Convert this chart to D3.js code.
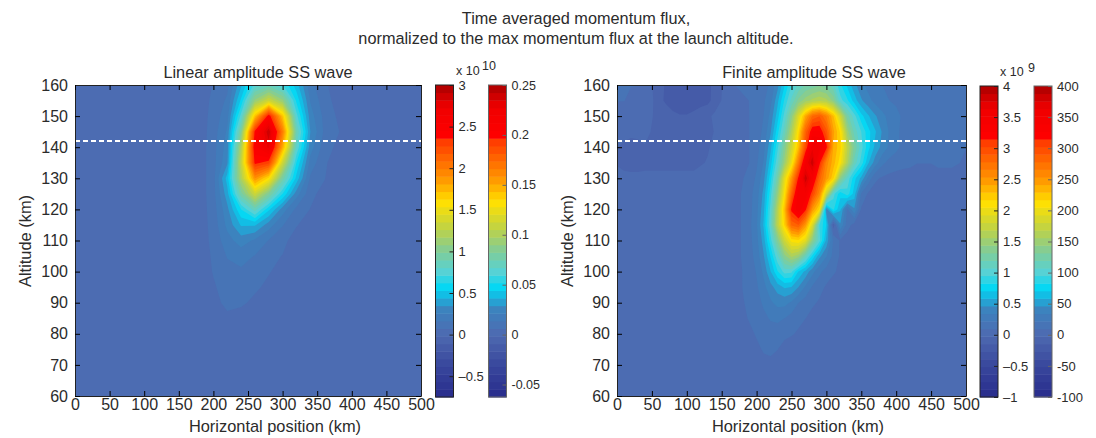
<!DOCTYPE html>
<html>
<head>
<meta charset="utf-8">
<script src="https://cdn.jsdelivr.net/npm/d3@7"></script>
<style>
body { margin: 0; background: #fff; }
text { font-family: "Liberation Sans", Arial, sans-serif; fill: #2b2b2b; }
.domain { stroke: #222; }
</style>
</head>
<body>
<div id="chart_container"></div>
<script>
// figure titles
const mainTitle = ["Time averaged momentum flux,", "normalized to the max momentum flux at the launch altitude."];
const panelTitles = ["Linear amplitude SS wave", "Finite amplitude SS wave"];
const launchAltitude = 142;

// axis ticks
const xTicks = [0, 50, 100, 150, 200, 250, 300, 350, 400, 450, 500];
const yTicks = [60, 70, 80, 90, 100, 110, 120, 130, 140, 150, 160];

// colorbar ranges and ticks
const linearBarDomain = [-0.75, 3];
const linearBarTicks = [-0.5, 0, 0.5, 1, 1.5, 2, 2.5, 3];
const linearNormDomain = [-0.0625, 0.25];
const linearNormTicks = [-0.05, 0, 0.05, 0.1, 0.15, 0.2, 0.25];
const finiteBarDomain = [-1, 4];
const finiteBarTicks = [-1, -0.5, 0, 0.5, 1, 1.5, 2, 2.5, 3, 3.5, 4];
const finiteNormDomain = [-100, 400];
const finiteNormTicks = [-100, -50, 0, 50, 100, 150, 200, 250, 300, 350, 400];

// altitudes of the grid rows, top to bottom
const altitudes = [160, 155, 150, 145, 140, 135, 130, 125, 120, 115, 110, 105, 100, 95, 90, 85, 80, 75, 70, 65, 60];

// linear case, x 10^10, columns every 20 km
const linearStep = 20;
const linearFlux = [
  [0,0,0,0,0,0,0,0,0,0,.08,.14,.42,.75,.85,.72,.48,.2,.09,.03,0,0,0,0,0,0],
  [0,0,0,0,0,0,0,0,0,.01,.1,.18,.55,1.1,1.35,1.1,.6,.25,.11,.04,0,0,0,0,0,0],
  [0,0,0,0,0,0,0,0,0,.02,.11,.22,.75,1.7,2.45,1.7,.75,.3,.14,.06,0,0,0,0,0,0],
  [0,0,0,0,0,0,0,0,0,.02,.12,.27,1.0,2.4,2.9,2.0,.9,.35,.15,.08,.01,0,0,0,0,0],
  [0,0,0,0,0,0,0,0,0,.02,.13,.3,1.2,2.5,2.75,1.8,.8,.3,.12,.05,0,0,0,0,0,0],
  [0,0,0,0,0,0,0,0,0,.02,.13,.33,1.3,2.4,2.3,1.35,.62,.22,.09,.02,0,0,0,0,0,0],
  [0,0,0,0,0,0,0,0,0,.02,.13,.48,1.2,1.9,1.6,.95,.5,.15,.08,0,0,0,0,0,0,0],
  [0,0,0,0,0,0,0,0,0,.02,.13,.4,.95,1.35,1.0,.62,.3,.1,.04,0,0,0,0,0,0,0],
  [0,0,0,0,0,0,0,0,0,.02,.12,.32,.62,.85,.55,.3,.14,.07,.01,0,0,0,0,0,0,0],
  [0,0,0,0,0,0,0,0,0,.02,.11,.28,.45,.45,.3,.17,.08,.02,0,0,0,0,0,0,0,0],
  [0,0,0,0,0,0,0,0,0,.02,.1,.22,.3,.24,.16,.1,.03,0,0,0,0,0,0,0,0,0],
  [0,0,0,0,0,0,0,0,0,.01,.09,.17,.2,.16,.1,.07,.01,0,0,0,0,0,0,0,0,0],
  [0,0,0,0,0,0,0,0,0,.01,.08,.14,.15,.11,.08,.04,0,0,0,0,0,0,0,0,0,0],
  [0,0,0,0,0,0,0,0,0,0,.06,.12,.12,.09,.05,.01,0,0,0,0,0,0,0,0,0,0],
  [0,0,0,0,0,0,0,0,0,0,.04,.1,.09,.05,.01,0,0,0,0,0,0,0,0,0,0,0],
  [0,0,0,0,0,0,0,0,0,0,.02,.05,.03,0,0,0,0,0,0,0,0,0,0,0,0,0],
  [0,0,0,0,0,0,0,0,0,0,0,0,0,0,0,0,0,0,0,0,0,0,0,0,0,0],
  [0,0,0,0,0,0,0,0,0,0,0,0,0,0,0,0,0,0,0,0,0,0,0,0,0,0],
  [0,0,0,0,0,0,0,0,0,0,0,0,0,0,0,0,0,0,0,0,0,0,0,0,0,0],
  [0,0,0,0,0,0,0,0,0,0,0,0,0,0,0,0,0,0,0,0,0,0,0,0,0,0],
  [0,0,0,0,0,0,0,0,0,0,0,0,0,0,0,0,0,0,0,0,0,0,0,0,0,0]
];

// finite case, x 10^9, columns every 10 km
const finiteStep = 10;
const finiteFlux = [
  [.12,.12,.1,.1,.05,-.02,-.1,-.16,-.17,-.18,-.18,-.17,-.17,-.17,-.12,-.03,.05, .1,.12,.12,.12,.15,.25,.42,.7,.95,1.1,1.2,1.25,1.3,1.25,1.1,.85,.68,.5,.38,.3,.25,.22,.2,.18,.16,.14,.15,.15,.12,.12,.12,.12,.12,.12],
  [.1,.1,.08,.06,.02,0,-.12,-.16,-.18,-.2,-.2,-.18,-.18,-.18,-.1,-.02,.04, .05,.08,.1,.13,.2,.3,.55,.85,1.1,1.35,1.5,1.6,1.65,1.6,1.4,1.0,.85,.65,.48,.38,.3,.25,.22,.2,.18,.16,.17,.2,.15,.15,.15,.15,.14,.12],
  [.06,.05,.04,.02,0,-.02,-.05,-.1,-.13,-.14,-.14,-.13,-.1,-.05,0,0,.02, .04,.06,.1,.15,.22,.38,.65,1.0,1.4,1.9,2.4,2.8,2.9,2.65,2.3,1.8,1.25,1.0,.75,.6,.48,.38,.3,.25,.2,.15,.2,.22,.2,.2,.18,.18,.15,.12],
  [0,0,0,0,0,-.03,-.06,-.1,-.1,-.12,-.12,-.1,-.08,-.05,-.02,0,0, .03,.06,.1,.15,.25,.45,.78,1.15,1.6,2.15,2.85,3.3,3.3,2.95,2.45,2.15,1.5,1.15,.95,.75,.6,.45,.33,.25,.18,.15,.15,.12,.15,.2,.22,.2,.15,.1],
  [-.02,-.04,-.06,-.05,-.03,-.05,-.08,-.1,-.1,-.1,-.1,-.08,-.05,-.03,-.01,0,0, .02,.05,.1,.17,.3,.55,.92,1.35,1.8,2.3,3.0,3.6,3.55,3.2,2.4,2.2,1.7,1.3,1.0,.75,.55,.42,.32,.25,.18,.12,.1,.1,.12,.18,.2,.2,.15,.1],
  [-.03,-.05,-.06,-.06,-.05,-.05,-.05,-.05,-.05,-.05,-.05,-.05,-.03,-.02,-.01,0,0, .02,.05,.1,.2,.35,.65,1.05,1.5,2.0,2.7,3.5,3.85,3.2,2.6,2.35,2.1,1.6,1.15,.9,.6,.4,.25,.18,.15,.13,.12,.1,.1,.1,.12,.12,.12,.1,.08],
  [0,0,0,0,0,0,0,0,0,0,0,0,0,0,0,0,0, .04,.09,.15,.24,.42,.78,1.25,1.95,2.5,3.2,3.85,3.45,2.85,2.5,2.2,1.4,1.05,.75,.55,.3,.12,.08,.06,.05,.05,.05,.05,.05,.05,.05,.05,.05,.05,.05],
  [0,0,0,0,0,0,0,0,0,0,0,0,0,0,0,0,0, .06,.11,.18,.28,.5,.9,1.45,2.1,2.85,3.5,3.5,3.05,2.6,1.8,1.0,.75,.9,.65,.2,.08,.04,.02,.01,0,0,0,0,0,0,0,0,0,0,0],
  [0,0,0,0,0,0,0,0,0,0,0,0,0,0,0,0,0, .06,.11,.18,.3,.55,1.0,1.65,2.3,3.2,3.5,3.2,2.5,2.15,.4,.85,.6,.2,.45,.08,.03,.01,0,0,0,0,0,0,0,0,0,0,0,0,0],
  [0,0,0,0,0,0,0,0,0,0,0,0,0,0,0,0,0, .06,.11,.19,.32,.6,1.05,1.7,2.2,2.8,2.9,2.5,1.9,.95,.7,-.1,.45,.15,.05,.01,0,0,0,0,0,0,0,0,0,0,0,0,0,0,0],
  [0,0,0,0,0,0,0,0,0,0,0,0,0,0,0,0,0, .06,.11,.18,.3,.52,.9,1.35,1.8,2.1,2.15,1.95,1.4,1.0,.55,.2,.08,.03,0,0,0,0,0,0,0,0,0,0,0,0,0,0,0,0,0],
  [0,0,0,0,0,0,0,0,0,0,0,0,0,0,0,0,0, .06,.11,.17,.27,.45,.72,1.05,1.4,1.6,1.5,1.15,.8,.5,.35,.18,.08,.03,0,0,0,0,0,0,0,0,0,0,0,0,0,0,0,0,0],
  [0,0,0,0,0,0,0,0,0,0,0,0,0,0,0,0,0, .06,.1,.15,.23,.37,.58,.82,1.0,.98,.7,.55,.38,.25,.17,.12,.06,.01,0,0,0,0,0,0,0,0,0,0,0,0,0,0,0,0,0],
  [0,0,0,0,0,0,0,0,0,0,0,0,0,0,0,0,0, .05,.1,.14,.2,.3,.42,.52,.6,.58,.46,.32,.2,.14,.08,.02,0,0,0,0,0,0,0,0,0,0,0,0,0,0,0,0,0,0,0],
  [0,0,0,0,0,0,0,0,0,0,0,0,0,0,0,0,0, .05,.09,.12,.17,.24,.32,.38,.38,.32,.22,.16,.12,.08,.02,0,0,0,0,0,0,0,0,0,0,0,0,0,0,0,0,0,0,0,0],
  [0,0,0,0,0,0,0,0,0,0,0,0,0,0,0,0,0, .03,.07,.11,.15,.19,.23,.25,.22,.17,.13,.1,.05,0,0,0,0,0,0,0,0,0,0,0,0,0,0,0,0,0,0,0,0,0,0],
  [0,0,0,0,0,0,0,0,0,0,0,0,0,0,0,0,0, .01,.03,.07,.11,.15,.17,.15,.13,.11,.08,.02,0,0,0,0,0,0,0,0,0,0,0,0,0,0,0,0,0,0,0,0,0,0,0],
  [0,0,0,0,0,0,0,0,0,0,0,0,0,0,0,0,0, 0,.01,.04,.07,.11,.12,.1,.05,.02,0,0,0,0,0,0,0,0,0,0,0,0,0,0,0,0,0,0,0,0,0,0,0,0,0],
  [0,0,0,0,0,0,0,0,0,0,0,0,0,0,0,0,0, 0,0,0,.02,.06,.07,.04,0,0,0,0,0,0,0,0,0,0,0,0,0,0,0,0,0,0,0,0,0,0,0,0,0,0,0],
  [0,0,0,0,0,0,0,0,0,0,0,0,0,0,0,0,0, 0,0,0,0,0,0,0,0,0,0,0,0,0,0,0,0,0,0,0,0,0,0,0,0,0,0,0,0,0,0,0,0,0,0,0,0],
  [0,0,0,0,0,0,0,0,0,0,0,0,0,0,0,0,0, 0,0,0,0,0,0,0,0,0,0,0,0,0,0,0,0,0,0,0,0,0,0,0,0,0,0,0,0,0,0,0,0,0,0,0,0]
];

// colormap, position along the bar -> colour
const mapStops = [0, 0.1, 0.2, 0.28, 0.35, 0.4, 0.47, 0.54, 0.625, 0.7, 0.82, 0.835, 0.93, 1];
const mapColours = ["#282c8c", "#38479c", "#4e6ab1", "#3c82be", "#00d7f5", "#55d2d7", "#82cd96", "#bed246", "#ffe100", "#ff9600", "#ff3c00", "#ff0000", "#f00000", "#aa0000"];
const bandCount = 41;

const w = 1096, h = 438;
const plotTop = 85, plotBottom = 396;

const svg = d3.select("#chart_container").append("svg")
    .attr("width", w)
    .attr("height", h);

// position along colorbar -> colour
const mapScale = d3.scaleLinear().domain(mapStops).range(mapColours).interpolate(d3.interpolateRgb);

function bandEdges(domain) {
    const size = (domain[1] - domain[0]) / bandCount;
    return d3.range(bandCount).map(i => domain[0] + i * size);
}

function bandColour(domain, v) {
    const size = (domain[1] - domain[0]) / bandCount;
    return mapScale((v + size / 2 - domain[0]) / (domain[1] - domain[0]));
}

function drawPanel(id, left, right, grid, step, domain, title, titleX, labelX) {
    const g = svg.append("g").attr("id", id);
    const xScale = d3.scaleLinear().domain([0, 500]).range([left, right]);
    const yScale = d3.scaleLinear().domain([60, 160]).range([plotBottom, plotTop]);

    g.append("clipPath").attr("id", id + "-clip").append("rect")
        .attr("x", left).attr("y", plotTop)
        .attr("width", right - left).attr("height", plotBottom - plotTop);

    const edges = bandEdges(domain);
    const rowStep = altitudes[0] - altitudes[1];

    // contour space has grid points at i+0.5
    const path = d3.geoPath(d3.geoTransform({
        point: function(cx, cy) {
            this.stream.point(xScale((cx - 0.5) * step), yScale(altitudes[0] - (cy - 0.5) * rowStep));
        }
    }));
    const contours = d3.contours()
        .size([grid[0].length, grid.length])
        .smooth(true)
        .thresholds(edges)(grid.flat());

    const field = g.append("g").attr("clip-path", "url(#" + id + "-clip)");
    field.append("rect")
        .attr("x", left).attr("y", plotTop)
        .attr("width", right - left).attr("height", plotBottom - plotTop)
        .attr("fill", bandColour(domain, edges[0]));
    field.selectAll("path")
        .data(contours)
        .enter()
        .append("path")
        .attr("d", path)
        .attr("fill", d => bandColour(domain, d.value));

    // launch altitude
    g.append("line")
        .attr("x1", left).attr("x2", right)
        .attr("y1", yScale(launchAltitude)).attr("y2", yScale(launchAltitude))
        .attr("stroke", "#fff")
        .attr("stroke-width", 2)
        .attr("stroke-dasharray", "5,3");

    // axes, ticks pointing inward on all four sides
    const inner = 5;
    g.append("g").attr("transform", "translate(0," + plotBottom + ")")
        .call(d3.axisBottom(xScale).tickValues(xTicks).tickSizeInner(-inner).tickSizeOuter(0).tickPadding(3))
        .call(a => a.selectAll("text").attr("font-size", 16).attr("fill", "#2b2b2b"));
    g.append("g").attr("transform", "translate(" + left + ",0)")
        .call(d3.axisLeft(yScale).tickValues(yTicks).tickSizeInner(-inner).tickSizeOuter(0).tickPadding(7))
        .call(a => a.selectAll("text").attr("font-size", 16).attr("fill", "#2b2b2b"));
    g.append("g").attr("transform", "translate(0," + plotTop + ")")
        .call(d3.axisTop(xScale).tickValues(xTicks).tickSizeInner(-inner).tickSizeOuter(0).tickFormat(""));
    g.append("g").attr("transform", "translate(" + right + ",0)")
        .call(d3.axisRight(yScale).tickValues(yTicks).tickSizeInner(-inner).tickSizeOuter(0).tickFormat(""));

    g.append("text")
        .attr("x", titleX).attr("y", 78)
        .attr("text-anchor", "middle").attr("font-size", 16.3)
        .text(title);
    g.append("text")
        .attr("x", labelX).attr("y", 432)
        .attr("text-anchor", "middle").attr("font-size", 16.4)
        .text("Horizontal position (km)");
    g.append("text")
        .attr("transform", "translate(" + (left - 44) + ",241) rotate(-90)")
        .attr("text-anchor", "middle").attr("font-size", 16.4)
        .text("Altitude (km)");
}

function drawBar(left, barTop, domain, ticks, format, colour, size) {
    const width = 18;
    const g = svg.append("g");
    const yScale = d3.scaleLinear().domain(domain).range([plotBottom + 1, barTop]);
    const edges = bandEdges(domain);
    const bandSize = (domain[1] - domain[0]) / bandCount;

    g.selectAll("rect")
        .data(edges)
        .enter()
        .append("rect")
        .attr("x", left)
        .attr("width", width)
        .attr("y", d => yScale(d + bandSize))
        .attr("height", d => yScale(d) - yScale(d + bandSize) + 0.5)
        .attr("fill", d => bandColour(domain, d));

    g.append("rect")
        .attr("x", left).attr("y", barTop)
        .attr("width", width).attr("height", plotBottom + 1 - barTop)
        .attr("fill", "none").attr("stroke", colour).attr("stroke-width", 1);

    g.append("g").attr("transform", "translate(" + (left + width) + ",0)")
        .call(d3.axisRight(yScale).tickValues(ticks).tickSizeInner(-4).tickSizeOuter(0).tickPadding(5).tickFormat(format))
        .call(a => a.select(".domain").remove())
        .call(a => a.selectAll("line").attr("stroke", colour))
        .call(a => a.selectAll("text").attr("font-size", size).attr("fill", colour));
    return g;
}

// main title
svg.selectAll("text.main")
    .data(mainTitle)
    .enter()
    .append("text")
    .attr("class", "main")
    .attr("x", 576)
    .attr("y", (d, i) => 24 + i * 20)
    .attr("text-anchor", "middle")
    .attr("font-size", 16.3)
    .text(d => d);

drawPanel("linear", 75, 421, linearFlux, linearStep, linearBarDomain, panelTitles[0], 258, 275);
drawPanel("finite", 617, 966, finiteFlux, finiteStep, finiteBarDomain, panelTitles[1], 814, 798);

const minusFormat = d => String(d).replace("-", "\u2013");
drawBar(435.5, 85, linearBarDomain, linearBarTicks, minusFormat, "#222", 13);
drawBar(488.5, 85, linearNormDomain, linearNormTicks, d => String(d), "#666", 12.5);
drawBar(980, 86, finiteBarDomain, finiteBarTicks, minusFormat, "#222", 13);
drawBar(1034, 86, finiteNormDomain, finiteNormTicks, d => String(d), "#666", 13);

// colorbar multipliers, nudged clear of the top tick label
svg.append("text").attr("x", 456).attr("y", 75).attr("font-size", 12.5).text("x 10");
svg.append("text").attr("x", 482).attr("y", 70).attr("font-size", 12.5).text("10");
svg.append("text").attr("x", 1000).attr("y", 76).attr("font-size", 12.5).text("x 10");
svg.append("text").attr("x", 1028).attr("y", 72).attr("font-size", 12.5).text("9");
</script>
</body>
</html>
